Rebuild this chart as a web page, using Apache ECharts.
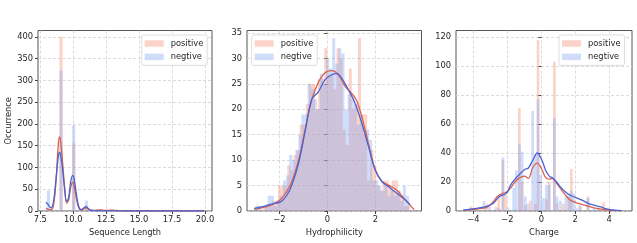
<!DOCTYPE html>
<html>
<head>
<meta charset="utf-8">
<script src="https://cdn.jsdelivr.net/npm/echarts@6/dist/echarts.min.js"></script>
<style>
  html, body { margin: 0; padding: 0; background: #fff; }
  #chart { width: 637px; height: 243px; }
</style>
</head>
<body>
<div id="chart"></div>
<script>
// ---- Sequence Length ----
const seqXTicks = [7.5, 10, 12.5, 15, 17.5, 20]
const seqYTicks = [0, 50, 100, 150, 200, 250, 300, 350, 400]
const seqBinWidth = 0.24
const seqPosX = [8.12, 9.08, 10.04, 11.0, 11.96, 12.92]
const seqPosN = [5, 400, 155, 12, 3, 2]
const seqNegX = [8.12, 9.08, 10.04, 11.0, 11.96, 12.92]
const seqNegN = [47, 322, 197, 24, 2, 1]
const seqKdeX = [7.93, 8.1, 8.3, 8.5, 8.7, 8.85, 8.95, 9.05, 9.2, 9.35, 9.5, 9.65, 9.8, 9.95, 10.05, 10.2, 10.4, 10.6, 10.8, 10.95, 11.1, 11.3, 11.6, 11.9, 12.1, 12.4, 12.7, 13.0, 13.3, 13.7, 14.5, 16, 17.5, 19, 19.93]
const seqKdePos = [6, 4, 3, 12, 70, 145, 170, 160, 110, 55, 18, 25, 52, 66, 60, 35, 9, 2, 5, 7.5, 6, 2, 1.5, 2.5, 2.5, 1.2, 1.5, 2, 1.2, 0.4, 0.2, 0.1, 0.1, 0.1, 0]
const seqKdeNeg = [20, 15, 7, 20, 75, 120, 135, 128, 95, 50, 22, 30, 65, 82, 76, 48, 12, 3, 7, 10, 7, 2, 1, 0.5, 0.5, 0.3, 0.3, 0.3, 0.2, 0.1, 0, 0, 0, 0, 0]

// ---- Hydrophilicity ----
const hydroXTicks = [-2, 0, 2]
const hydroYTicks = [0, 5, 10, 15, 20, 25, 30, 35]
const hydroPosStart = -2.95
const hydroNegStart = -3.0
const hydroBinWidth = 0.128
const hydroPosN = [1, 0, 1, 1, 1, 2, 2, 5, 5, 5, 9, 8, 11, 12, 17, 17, 21, 25, 25, 20, 26, 26, 32, 27, 27, 24, 32, 30, 16, 13, 28, 20, 21, 34, 19, 19, 6, 12, 9, 5, 4, 6, 6, 5, 6, 6, 4, 3, 1, 1]
const hydroNegN = [1, 1, 0, 1, 3, 3, 1, 2, 3, 6, 7, 11, 10, 12, 15, 19, 19, 25, 24, 22, 20, 27, 25, 30, 28, 34, 29, 32, 31, 20, 23, 22, 21, 17, 19, 15, 16, 14, 6, 6, 5, 4, 5, 3, 4, 3, 4, 2, 5, 3]
const hydroKdePosX = [-3.05, -2.75, -2.45, -2.15, -1.9, -1.7, -1.48, -1.2, -0.93, -0.65, -0.37, -0.1, 0.18, 0.46, 0.74, 1.0, 1.22, 1.43, 1.71, 1.99, 2.27, 2.54, 2.89, 3.24, 3.61]
const hydroKdePos = [0.3, 0.6, 1.0, 1.6, 2.5, 3.8, 5.8, 10, 16, 21.9, 25.4, 27.2, 27.6, 26.8, 24.5, 23.2, 21.7, 18.6, 13.3, 8.1, 5.8, 5.1, 4.1, 2.2, 0.3]
const hydroKdeNegX = [-3.05, -2.75, -2.45, -2.2, -1.95, -1.7, -1.48, -1.2, -0.93, -0.65, -0.37, -0.1, 0.18, 0.39, 0.6, 0.88, 1.15, 1.43, 1.71, 1.99, 2.27, 2.54, 2.89, 3.24, 3.45]
const hydroKdeNeg = [0.5, 0.8, 1.2, 1.5, 1.8, 3.0, 5.1, 9.4, 15.6, 22, 23.5, 25.8, 26.8, 27, 26.1, 23.8, 21.2, 17.3, 12.7, 8.1, 5.8, 4.8, 3.5, 2.2, 1.2]

// ---- Charge ----
const chargeXTicks = [-4, -2, 0, 2, 4]
const chargeYTicks = [0, 20, 40, 60, 80, 100, 120]
const chargeBinWidth = 0.16
const chargePosX = [-4.15, -3.2, -2.66, -2.5, -2.26, -2.1, -1.29, -1.13, -0.94, -0.65, -0.35, -0.19, 0.3, 0.46, 0.77, 0.93, 1.3, 1.62, 1.77, 2.3, 2.75, 3.3, 3.67]
const chargePosN = [3, 5, 3, 10, 35, 11, 71, 20, 4, 7, 5, 118, 8, 20, 103, 5, 5, 10, 29, 3, 10, 1, 6]
const chargeNegX = [-4.45, -4.13, -3.8, -3.37, -3.05, -2.75, -2.5, -2.26, -1.95, -1.63, -1.47, -1.29, -1.13, -0.94, -0.79, -0.51, -0.35, -0.19, -0.03, 0.13, 0.3, 0.46, 0.77, 0.93, 1.13, 1.45, 1.62, 1.77, 1.93, 2.1, 2.27, 2.75, 3.1, 3.4, 3.7, 4.0]
const chargeNegN = [1, 1, 1, 7, 3, 1, 2, 37, 2, 16, 28, 46, 41, 10, 5, 69, 39, 77, 25, 9, 18, 18, 64, 10, 7, 10, 12, 14, 12, 2, 4, 9, 2, 1, 1, 1]
const chargeKdeX = [-4.6, -4.2, -3.8, -3.5, -3.2, -3.0, -2.8, -2.59, -2.4, -2.19, -2.0, -1.8, -1.55, -1.3, -1.0, -0.76, -0.5, -0.24, 0.02, 0.26, 0.5, 0.65, 0.9, 1.1, 1.39, 1.69, 2.0, 2.4, 2.76, 3.1, 3.5, 3.85, 4.3, 4.73]
const chargeKdePos = [0.4, 0.8, 1.3, 1.8, 2.5, 4.3, 6.7, 10, 11.5, 12.4, 13.5, 15.9, 20, 22.7, 24, 22.5, 30, 33, 29, 23, 22, 22.6, 19, 16, 11.5, 7.6, 6, 4.5, 3.4, 2.2, 1.3, 0.7, 0.4, 0.2]
const chargeKdeNeg = [0.6, 1.2, 1.8, 2.5, 3.2, 4.2, 5.5, 8.5, 10.5, 11.2, 13, 18, 22, 25, 28.5, 29.7, 35, 40, 35.5, 28, 23.7, 23, 20, 17, 13.5, 11, 9.5, 7.5, 5.3, 4, 2.8, 1.5, 0.6, 0.2]

const FONT = 'DejaVu Sans'
const FS = 8.3
const TXT = '#262626'
const POS_BAR = 'rgba(244, 140, 110, 0.38)'
const NEG_BAR = 'rgba(130, 165, 245, 0.38)'
const POS_LINE = '#d9604f'
const NEG_LINE = '#4a62d4'

const minus = (v) => (v < 0 ? '\u2212' + Math.abs(v) : String(v))

const barsFromCenters = (xs, ns, w) => xs.map((x, i) => [x - w / 2, x + w / 2, ns[i]])
const barsFromStart = (start, w, ns) => ns.map((n, i) => [start + i * w, start + (i + 1) * w, n])
const pairs = (xs, ys) => xs.map((x, i) => [x, ys[i]])

const renderBar = (params, api) => {
  const p0 = api.coord([api.value(0), api.value(2)])
  const p1 = api.coord([api.value(1), 0])
  return {
    type: 'rect',
    shape: { x: p0[0], y: p0[1], width: p1[0] - p0[0], height: p1[1] - p0[1] },
    style: api.style()
  }
}

const gridLine = { show: true, lineStyle: { color: '#d2d2d2', width: 0.8, type: [3, 2] } }
const labelStyle = { fontFamily: FONT, fontSize: FS, color: TXT }

const makeX = (i, min, max, ticks, fmt, name) => ({
  type: 'value', gridIndex: i, min, max,
  name, nameLocation: 'middle', nameGap: 15,
  nameTextStyle: { fontFamily: FONT, fontSize: FS, color: TXT },
  axisLine: { show: false },
  axisTick: { show: true, length: 3, customValues: ticks, lineStyle: { color: '#444' } },
  axisLabel: { customValues: ticks, formatter: fmt, margin: 5, ...labelStyle },
  splitLine: gridLine
})

const makeY = (i, max, ticks, name) => ({
  type: 'value', gridIndex: i, min: 0, max,
  name, nameLocation: 'middle', nameGap: 24,
  nameTextStyle: { fontFamily: FONT, fontSize: FS, color: TXT },
  axisLine: { show: false },
  axisTick: { show: true, length: 3, customValues: ticks, lineStyle: { color: '#444' } },
  axisLabel: { customValues: ticks, margin: 5, ...labelStyle },
  splitLine: gridLine
})

const histSeries = (i, name, color, data) => ({
  type: 'custom', name, xAxisIndex: i, yAxisIndex: i,
  renderItem: renderBar, itemStyle: { color },
  encode: { x: [0, 1], y: 2 }, data, silent: true
})

const kdeSeries = (i, name, color, data) => ({
  type: 'line', name, xAxisIndex: i, yAxisIndex: i,
  data, smooth: 0.35, symbol: 'none', silent: true,
  lineStyle: { color, width: 1.3 }
})

const makeLegend = (left) => ({
  left, top: 35, orient: 'vertical', data: ['positive', 'negtive'],
  icon: 'rect', itemWidth: 19, itemHeight: 6.5, itemGap: 3.4,
  padding: [3.5, 4, 3.5, 3], selectedMode: false,
  backgroundColor: 'rgba(255,255,255,0.85)', borderColor: '#d4d4d4',
  borderWidth: 0.8, borderRadius: 2,
  textStyle: { fontFamily: FONT, fontSize: FS, color: TXT, lineHeight: 10, padding: [0, 0, 0, 2] }
})

const chart = echarts.init(document.getElementById('chart'))

chart.setOption({
  animation: false,
  backgroundColor: '#fff',
  grid: [
    { left: 38, top: 30.5, width: 174, height: 180.5, show: true, borderColor: '#555', borderWidth: 1 },
    { left: 247, top: 30.5, width: 174.5, height: 180.5, show: true, borderColor: '#555', borderWidth: 1 },
    { left: 456, top: 30.5, width: 176, height: 180.5, show: true, borderColor: '#555', borderWidth: 1 }
  ],
  xAxis: [
    makeX(0, 7.33, 20.53, seqXTicks, (v) => v.toFixed(1), 'Sequence Length'),
    makeX(1, -3.35, 3.92, hydroXTicks, minus, 'Hydrophilicity'),
    makeX(2, -5.02, 5.34, chargeXTicks, minus, 'Charge')
  ],
  yAxis: [
    makeY(0, 414.5, seqYTicks, 'Occurrence'),
    makeY(1, 35.5, hydroYTicks),
    makeY(2, 124.5, chargeYTicks)
  ],
  legend: [makeLegend(141.7), makeLegend(251.7), makeLegend(559)],
  series: [
    histSeries(0, 'positive', POS_BAR, barsFromCenters(seqPosX, seqPosN, seqBinWidth)),
    kdeSeries(0, 'positive kde', POS_LINE, pairs(seqKdeX, seqKdePos)),
    histSeries(0, 'negtive', NEG_BAR, barsFromCenters(seqNegX, seqNegN, seqBinWidth)),
    kdeSeries(0, 'negtive kde', NEG_LINE, pairs(seqKdeX, seqKdeNeg)),

    histSeries(1, 'positive', POS_BAR, barsFromStart(hydroPosStart, hydroBinWidth, hydroPosN)),
    kdeSeries(1, 'positive kde', POS_LINE, pairs(hydroKdePosX, hydroKdePos)),
    histSeries(1, 'negtive', NEG_BAR, barsFromStart(hydroNegStart, hydroBinWidth, hydroNegN)),
    kdeSeries(1, 'negtive kde', NEG_LINE, pairs(hydroKdeNegX, hydroKdeNeg)),

    histSeries(2, 'positive', POS_BAR, barsFromCenters(chargePosX, chargePosN, chargeBinWidth)),
    kdeSeries(2, 'positive kde', POS_LINE, pairs(chargeKdeX, chargeKdePos)),
    histSeries(2, 'negtive', NEG_BAR, barsFromCenters(chargeNegX, chargeNegN, chargeBinWidth)),
    kdeSeries(2, 'negtive kde', NEG_LINE, pairs(chargeKdeX, chargeKdeNeg))
  ]
})
</script>
</body>
</html>
